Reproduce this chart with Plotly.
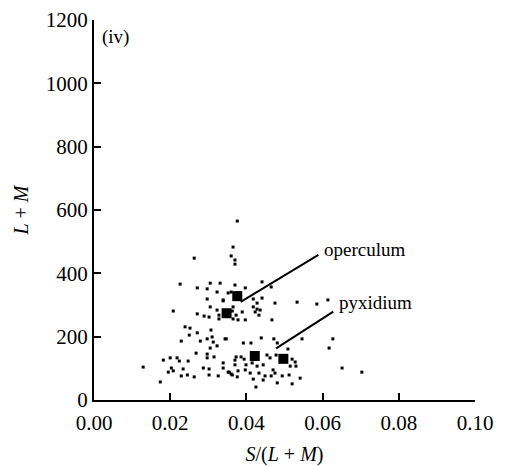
import plotly.graph_objects as go

# cone ratio values (small dots)
sx = [0.0365,0.0263,0.0360,0.0370,0.0370,0.0226,0.0305,0.0331,0.0323,0.0271,
      0.0297,0.0352,0.0297,0.0339,0.0305,0.0271,0.0289,0.0302,0.0208,0.0323,
      0.0328,0.0328,0.0363,0.0373,0.0365,0.0239,0.0252,0.0271,0.0250,0.0229,
      0.0279,0.0297,0.0307,0.0310,0.0313,0.0323,0.0305,0.0347,0.0268,0.0297,
      0.0297,0.0315,0.0182,0.0200,0.0218,0.0224,0.0247,0.0203,0.0195,0.0208,
      0.0234,0.0287,0.0302,0.0339,0.0355,0.0129,0.0174,0.0229,0.0245,0.0263,
      0.0302,0.0326,0.0360,0.0376,0.0373,0.0370,0.0370,0.0378,0.0397,0.0441,
      0.0465,0.0339,0.0365,0.0389,0.0378,0.0418,0.0423,0.0433,0.0436,0.0418,
      0.0441,0.0475,0.0533,0.0585,0.0614,0.0467,0.0397,0.0344,0.0392,0.0412,
      0.0439,0.0472,0.0481,0.0509,0.0546,0.0627,0.0617,0.0386,0.0394,0.0454,
      0.0462,0.0478,0.0520,0.0528,0.0339,0.0370,0.0399,0.0415,0.0428,0.0444,
      0.0515,0.0530,0.0651,0.0352,0.0363,0.0378,0.0397,0.0410,0.0433,0.0449,
      0.0465,0.0470,0.0475,0.0494,0.0512,0.0541,0.0481,0.0520,0.0425,0.0444,
      0.0418,0.0703,0.0376,0.0360,0.0428,0.0428]
sy = [483,448,455,442,429,366,369,369,341,354,
      351,338,319,313,294,272,265,262,281,284,
      268,256,281,268,256,231,227,212,205,186,
      186,193,221,199,183,171,164,193,148,145,
      133,136,126,133,133,123,123,101,88,92,
      98,101,98,101,88,104,57,76,79,73,
      79,76,82,73,136,126,363,338,354,373,
      357,316,294,278,253,294,278,268,284,319,
      322,306,309,303,316,253,253,193,180,180,
      196,193,180,161,193,193,164,136,129,142,
      133,142,129,120,117,111,111,117,107,111,
      107,107,101,88,79,92,95,85,85,76,
      76,95,85,76,79,69,54,51,41,63,
      66,88,565,341,306,287]

# highlighted samples (large squares)
op_x = [0.0376, 0.0348]
op_y = [328, 274]
py_x = [0.0422, 0.0497]
py_y = [139, 130]

xticks = [0.00, 0.02, 0.04, 0.06, 0.08, 0.10]
yticks = [0, 200, 400, 600, 800, 1000, 1200]

font = "Liberation Serif"

fig = go.Figure()
fig.add_trace(go.Scatter(x=sx, y=sy, mode="markers",
                         marker=dict(symbol="square", size=3, color="black"),
                         showlegend=False, hoverinfo="skip"))
fig.add_trace(go.Scatter(x=op_x + py_x, y=op_y + py_y, mode="markers",
                         marker=dict(symbol="square", size=10, color="black"),
                         showlegend=False, hoverinfo="skip"))

# pointer lines
fig.add_shape(type="line", x0=0.0385, y0=310, x1=0.0589, y1=458,
              line=dict(color="black", width=2))
fig.add_shape(type="line", x0=0.0478, y0=163, x1=0.0628, y1=279,
              line=dict(color="black", width=2))

fig.add_annotation(x=0.0598, y=474, text="operculum", showarrow=False,
                   xanchor="left", yanchor="middle",
                   font=dict(family=font, size=19, color="black"))
fig.add_annotation(x=0.0638, y=309, text="pyxidium", showarrow=False,
                   xanchor="left", yanchor="middle",
                   font=dict(family=font, size=19, color="black"))
fig.add_annotation(x=0.0017, y=1147, text="(iv)", showarrow=False,
                   xanchor="left", yanchor="middle",
                   font=dict(family=font, size=19, color="black"))

fig.update_xaxes(range=[0, 0.1], tickvals=xticks, tickformat=".2f",
                 ticks="inside", ticklen=7, tickwidth=2, tickcolor="black",
                 showline=True, linecolor="black", linewidth=2,
                 showgrid=False, zeroline=False, ticklabelstandoff=3,
                 automargin=False,
                 tickfont=dict(family=font, size=21, color="black"),
                 title=dict(text="<i>S</i>/(<i>L</i> + <i>M</i>)",
                            font=dict(family=font, size=20, color="black"),
                            standoff=14))
fig.update_yaxes(range=[0, 1200], tickvals=yticks,
                 ticks="inside", ticklen=7, tickwidth=2, tickcolor="black",
                 showline=True, linecolor="black", linewidth=2,
                 showgrid=False, zeroline=False, automargin=False,
                 tickfont=dict(family=font, size=21, color="black"),
                 title=dict(text="<i>L</i> + <i>M</i>",
                            font=dict(family=font, size=20, color="black"),
                            standoff=12))

fig.update_layout(width=505, height=466,
                  margin=dict(l=94, r=30, t=20, b=66),
                  paper_bgcolor="white", plot_bgcolor="white")

fig.write_html("out.html")
